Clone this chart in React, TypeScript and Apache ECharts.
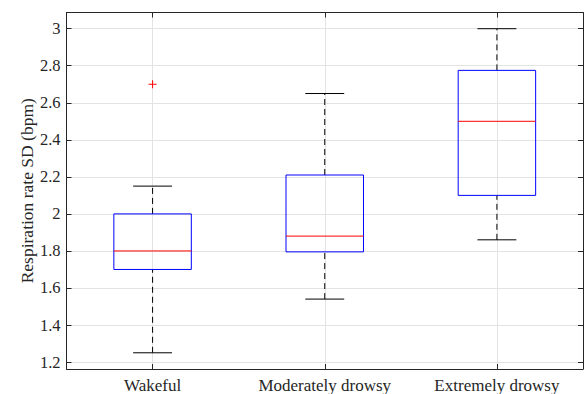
import React, { useEffect, useRef } from "react";
import * as echarts from "echarts";

const categories = ["Wakeful", "Moderately drowsy", "Extremely drowsy"];
const lowerWhisker = [1.25, 1.54, 1.86];
const q1Values = [1.7, 1.795, 2.1];
const medianValues = [1.8, 1.88, 2.5];
const q3Values = [2.0, 2.21, 2.775];
const upperWhisker = [2.15, 2.65, 3.0];
const outlierCategory = [0];
const outlierValue = [2.7];
const yMin = 1.1625;
const yMax = 3.0875;
const yAxisName = "Respiration rate SD (bpm)";

const FONT = "'Liberation Serif', 'Times New Roman', serif";
const INK = "#262626";
const GRID = "#e3e3e3";

export default function App() {
  const ref = useRef<HTMLDivElement>(null);

  useEffect(() => {
    if (!ref.current) return;
    const chart = echarts.init(ref.current, undefined, { renderer: "svg" });

    const boxData = categories.map((_, i) => [
      i,
      lowerWhisker[i],
      q1Values[i],
      medianValues[i],
      q3Values[i],
      upperWhisker[i],
    ]);
    const outlierData = outlierCategory.map((c, i) => [c, outlierValue[i]]);

    const yAxisBase = {
      type: "value" as const,
      min: yMin,
      max: yMax,
      splitNumber: 9,
      minInterval: 0.2,
      maxInterval: 0.2,
      axisLine: { show: true, lineStyle: { color: INK, width: 1 } },
      axisTick: { show: true, inside: true, length: 5, lineStyle: { color: INK } },
    };

    const xAxisBase = {
      type: "category" as const,
      data: categories,
      boundaryGap: true,
      axisLine: { show: true, lineStyle: { color: INK, width: 1 } },
      axisTick: { show: true, inside: true, length: 5, alignWithLabel: true, interval: 0, lineStyle: { color: INK } },
    };

    chart.setOption({
      animation: false,
      backgroundColor: "#ffffff",
      grid: { left: 66.5, right: 1, top: 12.5, bottom: 24, containLabel: false },
      xAxis: [
        {
          ...xAxisBase,
          position: "bottom",
          axisLabel: { color: INK, fontFamily: FONT, fontSize: 17, margin: 8, interval: 0, hideOverlap: false },
          splitLine: { show: true, alignWithLabel: true, interval: 0, lineStyle: { color: GRID, width: 1 } } as any,
        },
        {
          ...xAxisBase,
          position: "top",
          axisLabel: { show: false },
          splitLine: { show: false },
        },
      ],
      yAxis: [
        {
          ...yAxisBase,
          position: "left",
          name: yAxisName,
          nameLocation: "middle",
          nameGap: 31,
          nameMoveOverlap: false,
          nameTextStyle: { color: INK, fontFamily: FONT, fontSize: 17.5 },
          axisLabel: {
            color: INK,
            fontFamily: FONT,
            fontSize: 16.5,
            margin: 6,
            showMinLabel: false,
            showMaxLabel: false,
            formatter: (v: number) => String(Number(v.toFixed(2))),
          },
          splitLine: { show: true, lineStyle: { color: GRID, width: 1 } },
        } as any,
        {
          ...yAxisBase,
          position: "right",
          axisLabel: { show: false },
          splitLine: { show: false },
        },
      ],
      series: [
        {
          type: "custom",
          xAxisIndex: 0,
          yAxisIndex: 0,
          data: boxData,
          encode: { x: 0, y: [1, 2, 3, 4, 5] },
          z: 5,
          renderItem: (params: any, api: any) => {
            const i = api.value(0);
            const lo = api.coord([i, api.value(1)]);
            const q1 = api.coord([i, api.value(2)]);
            const md = api.coord([i, api.value(3)]);
            const q3 = api.coord([i, api.value(4)]);
            const hi = api.coord([i, api.value(5)]);
            const band = api.size([1, 0])[0];
            const cx = lo[0];
            const bw = band * 0.225;
            const cw = band * 0.113;
            const dash = { stroke: "#000000", lineWidth: 1, lineDash: [6, 4] };
            const solid = { stroke: "#000000", lineWidth: 1 };
            return {
              type: "group",
              children: [
                { type: "line", shape: { x1: cx, y1: q3[1], x2: cx, y2: hi[1] }, style: dash },
                { type: "line", shape: { x1: cx, y1: lo[1], x2: cx, y2: q1[1] }, style: dash },
                { type: "line", shape: { x1: cx - cw, y1: hi[1], x2: cx + cw, y2: hi[1] }, style: solid },
                { type: "line", shape: { x1: cx - cw, y1: lo[1], x2: cx + cw, y2: lo[1] }, style: solid },
                {
                  type: "rect",
                  shape: { x: cx - bw, y: q3[1], width: bw * 2, height: q1[1] - q3[1] },
                  style: { fill: "none", stroke: "#0000ff", lineWidth: 1 },
                },
                {
                  type: "line",
                  shape: { x1: cx - bw, y1: md[1], x2: cx + bw, y2: md[1] },
                  style: { stroke: "#ff0000", lineWidth: 1 },
                },
              ],
            };
          },
        },
        {
          type: "custom",
          xAxisIndex: 0,
          yAxisIndex: 0,
          data: outlierData,
          encode: { x: 0, y: 1 },
          z: 6,
          renderItem: (params: any, api: any) => {
            const p = api.coord([api.value(0), api.value(1)]);
            const s = 4;
            const st = { stroke: "#ff0000", lineWidth: 1 };
            return {
              type: "group",
              children: [
                { type: "line", shape: { x1: p[0] - s, y1: p[1], x2: p[0] + s, y2: p[1] }, style: st },
                { type: "line", shape: { x1: p[0], y1: p[1] - s, x2: p[0], y2: p[1] + s }, style: st },
              ],
            };
          },
        },
      ],
    });

    return () => chart.dispose();
  }, []);

  return <div ref={ref} style={{ width: 584, height: 394, position: "fixed", left: 0, top: 0 }} />;
}
